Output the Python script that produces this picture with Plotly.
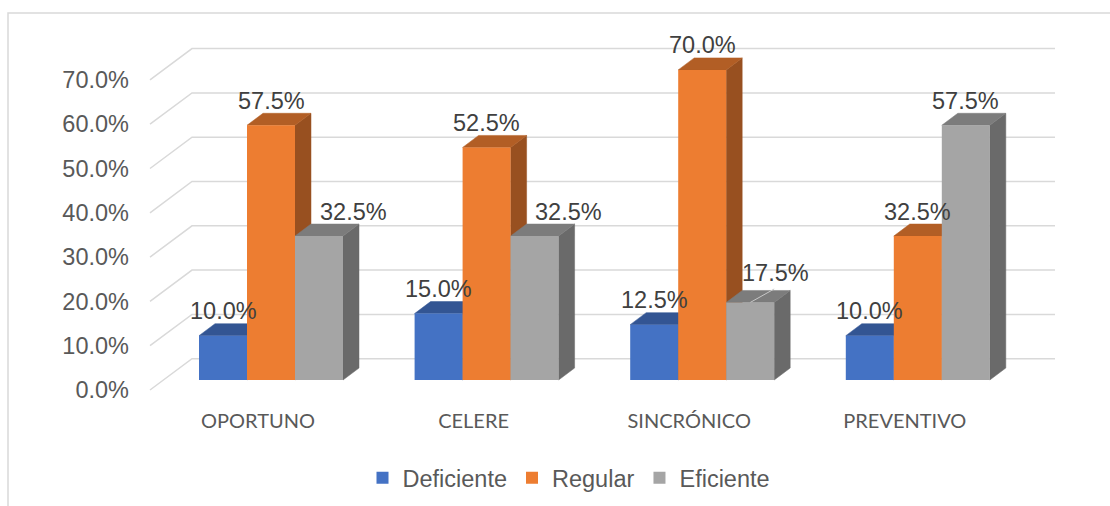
import plotly.graph_objects as go

categories = ["OPORTUNO", "CELERE", "SINCRÓNICO", "PREVENTIVO"]
deficiente = [10.0, 15.0, 12.5, 10.0]
regular = [57.5, 52.5, 70.0, 32.5]
eficiente = [32.5, 32.5, 17.5, 57.5]
y_ticks = [0, 10, 20, 30, 40, 50, 60, 70]

W, H = 1110, 506
ML, MR, MT, MB = 145, 50, 14, 115
GROUP_PX = 215.6       # pixels between category centres
VALUE_PX = 4.43        # pixels per percentage point
X0_PX = 271            # pixel of first category centre
Y0_PX = 380            # pixel of value 0 on the bar front plane
BAR_PX = 48

def ux(px):  # pixel length -> x units
    return px / GROUP_PX
def uy(px):  # pixel length -> value units
    return px / VALUE_PX

x_range = [(ML - X0_PX) / GROUP_PX, (W - MR - X0_PX) / GROUP_PX]
y_range = [(Y0_PX - (H - MB)) / VALUE_PX, (Y0_PX - MT) / VALUE_PX]

BAR_W = ux(BAR_PX)
DX, DY = ux(16), uy(12)
GRID = "#d9d9d9"
TXT = "#595959"
LBL = "#404040"
ARIAL = "Liberation Sans, Arial, sans-serif"

series = [
    ("Deficiente", deficiente, "#4472C4", "#335593", "#2C4A7E", -1),
    ("Regular", regular, "#ED7D31", "#B25E25", "#985020", 0),
    ("Eficiente", eficiente, "#A5A5A5", "#7C7C7C", "#6A6A6A", 1),
]

fig = go.Figure()

def poly(xs, ys, color):
    fig.add_trace(go.Scatter(
        x=xs + xs[:1], y=ys + ys[:1], mode="lines", fill="toself",
        fillcolor=color, line=dict(color=color, width=0.5),
        hoverinfo="skip", showlegend=False, cliponaxis=False,
    ))

# Perspective gridlines, derived from the tick values
front_x = (150 - X0_PX) / GROUP_PX
back_x = (192 - X0_PX) / GROUP_PX
right_x = (1055 - X0_PX) / GROUP_PX
for t in y_ticks:
    fig.add_trace(go.Scatter(
        x=[front_x, back_x, right_x],
        y=[t + uy(-10), t + uy(21.3), t + uy(21.3)],
        mode="lines", line=dict(color=GRID, width=1.5),
        hoverinfo="skip", showlegend=False, cliponaxis=False,
    ))

# Side and top faces, left to right so each bar hides the previous one's side
for i in range(len(categories)):
    for name, vals, front, top, side, pos in series:
        v = vals[i]
        xl = i + pos * BAR_W - BAR_W / 2
        xr = xl + BAR_W
        poly([xr, xr + DX, xr + DX, xr], [0, DY, v + DY, v], side)
        poly([xl, xr, xr + DX, xl + DX], [v, v, v + DY, v + DY], top)

# Leader line of the third category's Eficiente label
fig.add_trace(go.Scatter(
    x=[2 + BAR_W, 2 + BAR_W + ux(24)],
    y=[eficiente[2], eficiente[2] + uy(13.5)],
    mode="lines", line=dict(color="#c8c8c8", width=1),
    hoverinfo="skip", showlegend=False,
))

# Front faces
for name, vals, front, top, side, pos in series:
    fig.add_trace(go.Bar(
        x=list(range(len(categories))), y=vals, name=name,
        marker=dict(color=front, line=dict(width=0)),
        xaxis="x2", yaxis="y2", hoverinfo="skip",
    ))

# Data labels: (category, series) -> horizontal nudge in pixels
label_nudge = {(0, 1): 34, (1, 1): 34, (2, 1): 25}
label_lift = {(2, 1): 29.5}
annotations = []
for s, (name, vals, front, top, side, pos) in enumerate(series):
    for i, v in enumerate(vals):
        key = (i, pos)
        annotations.append(dict(
            x=i + pos * BAR_W, y=v, xref="x", yref="y",
            text=f"{v:.1f}%", showarrow=False,
            xshift=label_nudge.get(key, 0), yshift=label_lift.get(key, 24.5),
            font=dict(family=ARIAL, size=23.5, color=LBL),
            xanchor="center", yanchor="middle",
        ))

pw, ph = W - ML - MR, H - MT - MB
def paper_x(px):
    return (px - ML) / pw
def paper_y(py):
    return (H - MB - py) / ph

frame = dict(
    type="path", xref="paper", yref="paper",
    path=f"M {paper_x(8)} {paper_y(H)} L {paper_x(8)} {paper_y(13)} L {paper_x(W)} {paper_y(13)}",
    line=dict(color=GRID, width=1.5),
)

fig.update_layout(
    width=W, height=H,
    margin=dict(l=ML, r=MR, t=MT, b=MB, pad=0, autoexpand=False),
    paper_bgcolor="white", plot_bgcolor="rgba(0,0,0,0)",
    barmode="group", bargap=1 - 3 * BAR_W, bargroupgap=0,
    xaxis=dict(
        range=x_range, tickmode="array", tickvals=list(range(len(categories))),
        ticktext=categories, showgrid=False, zeroline=False, showline=False,
        ticks="", ticklabelstandoff=16, ticklabelshift=-13,
        tickfont=dict(family="Lato, sans-serif", size=20, color=TXT),
    ),
    yaxis=dict(
        range=y_range, tickmode="array", tickvals=y_ticks,
        ticktext=[f"{t:.1f}%" for t in y_ticks], showgrid=False,
        zeroline=False, showline=False, ticks="",
        ticklabelstandoff=15, ticklabelshift=10,
        tickfont=dict(family=ARIAL, size=23.5, color=TXT),
    ),
    xaxis2=dict(range=x_range, overlaying="x", visible=False),
    yaxis2=dict(range=y_range, overlaying="y", visible=False),
    legend=dict(
        orientation="h", xref="container", yref="container",
        x=569 / W, y=1 - 478 / H, xanchor="center", yanchor="middle",
        font=dict(family=ARIAL, size=23.5, color=TXT),
        itemwidth=30, bgcolor="rgba(0,0,0,0)",
    ),
    annotations=annotations,
    shapes=[frame],
)

fig.write_html("out.html", config={"displayModeBar": False},
               post_script="document.body.style.margin='0';")
